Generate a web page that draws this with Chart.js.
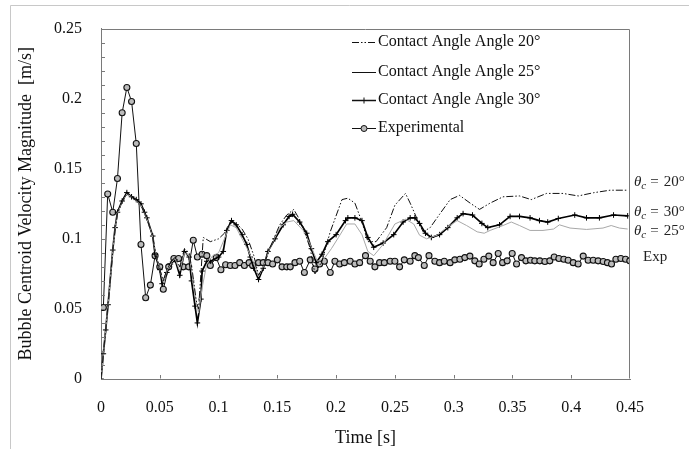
<!DOCTYPE html>
<html><head><meta charset="utf-8">
<script src="https://cdn.jsdelivr.net/npm/chart.js@4.4.0/dist/chart.umd.min.js"></script>
<style>html,body{margin:0;padding:0;background:#fff;}#wrap{width:689px;height:449px;position:relative;}</style>
</head><body><div id="wrap"><canvas id="c" width="689" height="449"></canvas></div>
<script>
// ---- data (time [s], velocity [m/s]) ----
const t20=[0,0.002,0.004,0.006,0.010,0.012,0.014,0.018,0.022,0.026,0.030,0.034,0.037,0.040,0.044,0.047,0.050,0.053,0.056,0.060,0.063,0.067,0.071,0.075,0.078,0.081,0.083,0.087,0.093,0.100,0.105,0.110,0.115,0.120,0.125,0.130,0.134,0.138,0.143,0.148,0.152,0.158,0.164,0.171,0.178,0.182,0.188,0.195,0.205,0.210,0.216,0.222,0.227,0.234,0.243,0.250,0.259,0.263,0.269,0.274,0.280,0.288,0.297,0.305,0.314,0.322,0.331,0.342,0.356,0.366,0.379,0.393,0.406,0.419,0.433,0.448];
const v20=[0,0.018,0.035,0.053,0.091,0.107,0.118,0.126,0.132,0.130,0.127,0.124,0.118,0.112,0.101,0.088,0.078,0.070,0.078,0.084,0.087,0.080,0.093,0.090,0.075,0.056,0.050,0.101,0.098,0.100,0.104,0.112,0.111,0.107,0.100,0.088,0.074,0.080,0.092,0.102,0.110,0.117,0.121,0.1106,0.093,0.075,0.084,0.105,0.128,0.129,0.1255,0.112,0.098,0.098,0.108,0.124,0.1324,0.1255,0.114,0.105,0.108,0.1175,0.128,0.131,0.1255,0.121,0.1255,0.130,0.1306,0.128,0.1324,0.1324,0.1306,0.1329,0.1347,0.1347];
const t25=[0,0.002,0.004,0.006,0.010,0.012,0.014,0.018,0.022,0.026,0.030,0.034,0.037,0.040,0.044,0.047,0.050,0.053,0.056,0.060,0.063,0.067,0.071,0.075,0.078,0.081,0.083,0.086,0.090,0.095,0.100,0.105,0.110,0.115,0.120,0.125,0.130,0.134,0.138,0.143,0.148,0.152,0.158,0.164,0.172,0.178,0.184,0.190,0.196,0.202,0.209,0.216,0.222,0.227,0.232,0.240,0.250,0.259,0.266,0.271,0.277,0.286,0.294,0.303,0.311,0.320,0.326,0.331,0.342,0.349,0.356,0.365,0.376,0.385,0.390,0.399,0.413,0.427,0.434,0.441,0.448];
const v25=[0,0.018,0.035,0.053,0.091,0.107,0.118,0.126,0.132,0.130,0.127,0.124,0.118,0.112,0.101,0.088,0.078,0.069,0.077,0.083,0.086,0.077,0.090,0.088,0.072,0.055,0.047,0.065,0.082,0.088,0.090,0.100,0.110,0.108,0.100,0.092,0.083,0.073,0.080,0.092,0.101,0.108,0.112,0.113,0.106,0.096,0.084,0.086,0.093,0.101,0.1106,0.1106,0.103,0.091,0.088,0.096,0.1106,0.114,0.1106,0.1026,0.100,0.1026,0.108,0.113,0.1095,0.105,0.104,0.106,0.1095,0.112,0.1095,0.106,0.106,0.107,0.110,0.1077,0.1067,0.1077,0.1095,0.1077,0.107];
const t30=[0,0.002,0.004,0.006,0.010,0.012,0.014,0.018,0.022,0.026,0.030,0.034,0.037,0.039,0.044,0.046,0.050,0.052,0.056,0.059,0.063,0.067,0.071,0.075,0.077,0.080,0.082,0.085,0.086,0.090,0.093,0.100,0.104,0.107,0.111,0.115,0.120,0.124,0.127,0.130,0.134,0.138,0.142,0.148,0.155,0.160,0.163,0.169,0.175,0.179,0.183,0.188,0.193,0.200,0.208,0.210,0.216,0.222,0.227,0.232,0.240,0.249,0.257,0.263,0.267,0.271,0.276,0.281,0.288,0.295,0.303,0.308,0.316,0.324,0.329,0.339,0.348,0.356,0.365,0.373,0.380,0.389,0.403,0.413,0.424,0.436,0.448];
const v30=[0,0.018,0.035,0.053,0.092,0.108,0.119,0.127,0.133,0.130,0.128,0.125,0.119,0.115,0.102,0.089,0.078,0.068,0.076,0.082,0.085,0.074,0.091,0.087,0.070,0.052,0.040,0.057,0.077,0.084,0.084,0.087,0.091,0.106,0.113,0.110,0.103,0.096,0.087,0.079,0.071,0.079,0.091,0.100,0.110,0.116,0.1175,0.112,0.104,0.093,0.083,0.089,0.098,0.103,0.113,0.115,0.115,0.113,0.101,0.094,0.097,0.103,0.112,0.115,0.115,0.111,0.104,0.101,0.103,0.108,0.115,0.118,0.117,0.111,0.108,0.110,0.116,0.116,0.115,0.113,0.112,0.1145,0.117,0.115,0.115,0.117,0.1164];
const tExp=[0.002,0.0057,0.010,0.014,0.018,0.022,0.026,0.030,0.034,0.038,0.042,0.046,0.050,0.053,0.0576,0.062,0.066,0.070,0.0746,0.0785,0.082,0.086,0.090,0.093,0.098,0.102,0.106,0.110,0.114,0.118,0.122,0.126,0.129,0.134,0.138,0.142,0.146,0.150,0.154,0.158,0.161,0.165,0.169,0.173,0.178,0.182,0.186,0.190,0.195,0.199,0.203,0.207,0.212,0.216,0.220,0.225,0.229,0.233,0.237,0.241,0.246,0.250,0.254,0.258,0.263,0.267,0.270,0.275,0.279,0.284,0.288,0.292,0.297,0.301,0.3053,0.3095,0.3138,0.3180,0.3217,0.3257,0.3299,0.3336,0.3379,0.3416,0.3455,0.3498,0.3535,0.3577,0.3614,0.3654,0.3690,0.3733,0.3776,0.3818,0.3855,0.3895,0.3937,0.3974,0.4017,0.4059,0.4102,0.4144,0.4187,0.4229,0.4272,0.4308,0.4343,0.4380,0.4422,0.4462,0.4498];
const vExp=[0.051,0.132,0.119,0.143,0.190,0.208,0.198,0.168,0.096,0.058,0.067,0.088,0.080,0.064,0.080,0.086,0.086,0.080,0.080,0.099,0.087,0.089,0.088,0.081,0.0866,0.078,0.0815,0.081,0.081,0.083,0.081,0.083,0.081,0.083,0.083,0.083,0.082,0.085,0.080,0.080,0.080,0.083,0.084,0.076,0.085,0.0785,0.082,0.084,0.076,0.084,0.082,0.083,0.084,0.082,0.083,0.088,0.084,0.080,0.083,0.083,0.084,0.084,0.080,0.085,0.084,0.088,0.0866,0.081,0.088,0.084,0.083,0.084,0.083,0.085,0.0854,0.0866,0.0877,0.0843,0.082,0.0854,0.0877,0.083,0.0895,0.083,0.0843,0.0895,0.082,0.0866,0.0843,0.0847,0.0843,0.0843,0.0838,0.0843,0.087,0.086,0.0854,0.0847,0.083,0.082,0.0877,0.0847,0.0847,0.0843,0.0838,0.083,0.082,0.0854,0.086,0.0854,0.0843];
const xTicks=[0,0.05,0.1,0.15,0.2,0.25,0.3,0.35,0.4,0.45];
const yTicks=[0,0.05,0.1,0.15,0.2,0.25];
const seriesNames=["Contact Angle Angle 20°","Contact Angle Angle 25°","Contact Angle Angle 30°","Experimental"];
const endLabels=["20°","30°","25°"];
const expLabel="Exp";
const xTitle="Time [s]";
const yTitle="Bubble Centroid Velocity Magnitude  [m/s]";

const pts=(t,v)=>t.map((x,i)=>({x:x,y:v[i]}));
const FONT='"Liberation Serif","Times New Roman",serif';
const DASH20=[7,2,1.5,2,1.5,2];

const decor={
  id:'decor',
  beforeDraw(ch){
    const c=ch.ctx;
    c.save();c.fillStyle='#fff';c.fillRect(0,0,ch.width,ch.height);
    c.strokeStyle='#c8c8c8';c.lineWidth=1;
    c.beginPath();c.moveTo(10.5,449);c.lineTo(10.5,5.5);c.lineTo(689,5.5);c.stroke();
    c.restore();
  },
  afterDraw(ch){
    const c=ch.ctx,a=ch.chartArea,xs=ch.scales.x,ys=ch.scales.y;
    c.save();
    c.strokeStyle='#7a7a7a';c.lineWidth=1;
    const L=Math.round(a.left)+0.5,R=Math.round(a.right)-0.5,T=Math.round(a.top)+0.5,B=Math.round(a.bottom)-0.5;
    c.beginPath();c.moveTo(L,T);c.lineTo(R,T);c.lineTo(R,B);c.stroke();
    c.beginPath();
    for(let k=1;k<25;k++){const y=Math.round(ys.getPixelForValue(k/100))+0.5;c.moveTo(L,y);c.lineTo(L+3.5,y);}
    xTicks.forEach(v=>{if(v>0&&v<0.45){const x=Math.round(xs.getPixelForValue(v))+0.5;c.moveTo(x,B);c.lineTo(x,B-3.5);}});
    c.stroke();
    const rows=[42,72,100,128];
    c.font='16px '+FONT;c.textBaseline='middle';c.textAlign='left';c.fillStyle='#111';
    rows.forEach((y,i)=>{
      const yy=Math.round(y)+0.5;
      c.save();c.strokeStyle='#111';c.lineWidth=i===2?1.5:1;
      if(i===0)c.setLineDash(DASH20);
      c.beginPath();c.moveTo(352,yy);c.lineTo(376,yy);c.stroke();c.restore();
      if(i===2){c.beginPath();c.strokeStyle='#111';c.moveTo(364,yy-3);c.lineTo(364,yy+3);c.stroke();}
      if(i===3){c.beginPath();c.fillStyle='#bbb';c.strokeStyle='#111';c.arc(364,yy,3,0,Math.PI*2);c.fill();c.stroke();c.fillStyle='#111';}
      c.fillText(seriesNames[i],378,y);
    });
    const ey=[182,212,231];
    c.fillStyle='#222';
    ey.forEach((y,i)=>{
      let x=634;
      c.font='italic 15px '+FONT;c.fillText('θ',x,y);x+=c.measureText('θ').width;
      c.font='italic 11px '+FONT;c.fillText('c',x,y+4);x+=c.measureText('c').width+4;
      c.font='15px '+FONT;c.fillText('=',x,y);x+=c.measureText('=').width+5;
      c.fillText(endLabels[i],x,y);
    });
    c.font='15px '+FONT;c.fillText(expLabel,643,257);
    c.restore();
  }
};

new Chart(document.getElementById('c'),{
  type:'line',
  data:{datasets:[
    {label:seriesNames[0],data:pts(t20,v20),borderColor:'#111',borderWidth:1,borderDash:DASH20,pointRadius:0,tension:0},
    {label:seriesNames[1],data:pts(t25,v25),borderColor:'#a8a8a8',borderWidth:1,pointRadius:0,tension:0},
    {label:seriesNames[2],data:pts(t30,v30),borderColor:'#000',borderWidth:1.7,pointStyle:'cross',pointRadius:2.8,pointBorderWidth:1,pointBorderColor:'#000',tension:0},
    {label:seriesNames[3],data:pts(tExp,vExp),borderColor:'#111',borderWidth:1,pointStyle:'circle',pointRadius:3,pointBorderWidth:1.1,pointBorderColor:'#111',pointBackgroundColor:'#bbb',tension:0}
  ]},
  options:{
    responsive:false,devicePixelRatio:1,animation:false,
    layout:{padding:{left:0,right:59,top:16,bottom:0}},
    plugins:{legend:{display:false},tooltip:{enabled:false}},
    scales:{
      x:{type:'linear',min:0,max:0.45,
        afterFit:s=>{s.height=70;},
        afterBuildTicks:s=>{s.ticks=xTicks.map(v=>({value:v}));},
        grid:{display:false,drawTicks:false},
        border:{display:true,color:'#7a7a7a',width:1},
        ticks:{padding:19,color:'#111',font:{family:FONT,size:16},maxRotation:0,autoSkip:false,callback:v=>String(Number(v.toFixed(2)))},
        title:{display:true,text:xTitle,color:'#111',font:{family:FONT,size:18},padding:{top:0,bottom:0}}},
      y:{type:'linear',min:0,max:0.25,
        afterFit:s=>{s.width=101;},
        afterBuildTicks:s=>{s.ticks=yTicks.map(v=>({value:v}));},
        grid:{display:false,drawTicks:false},
        border:{display:true,color:'#7a7a7a',width:1},
        ticks:{padding:19,color:'#111',font:{family:FONT,size:16},autoSkip:false,callback:v=>String(Number(v.toFixed(2)))},
        title:{display:true,text:yTitle,color:'#111',font:{family:FONT,size:18},padding:{top:15,bottom:0}}}
    }
  },
  plugins:[decor]
});
</script></body></html>
